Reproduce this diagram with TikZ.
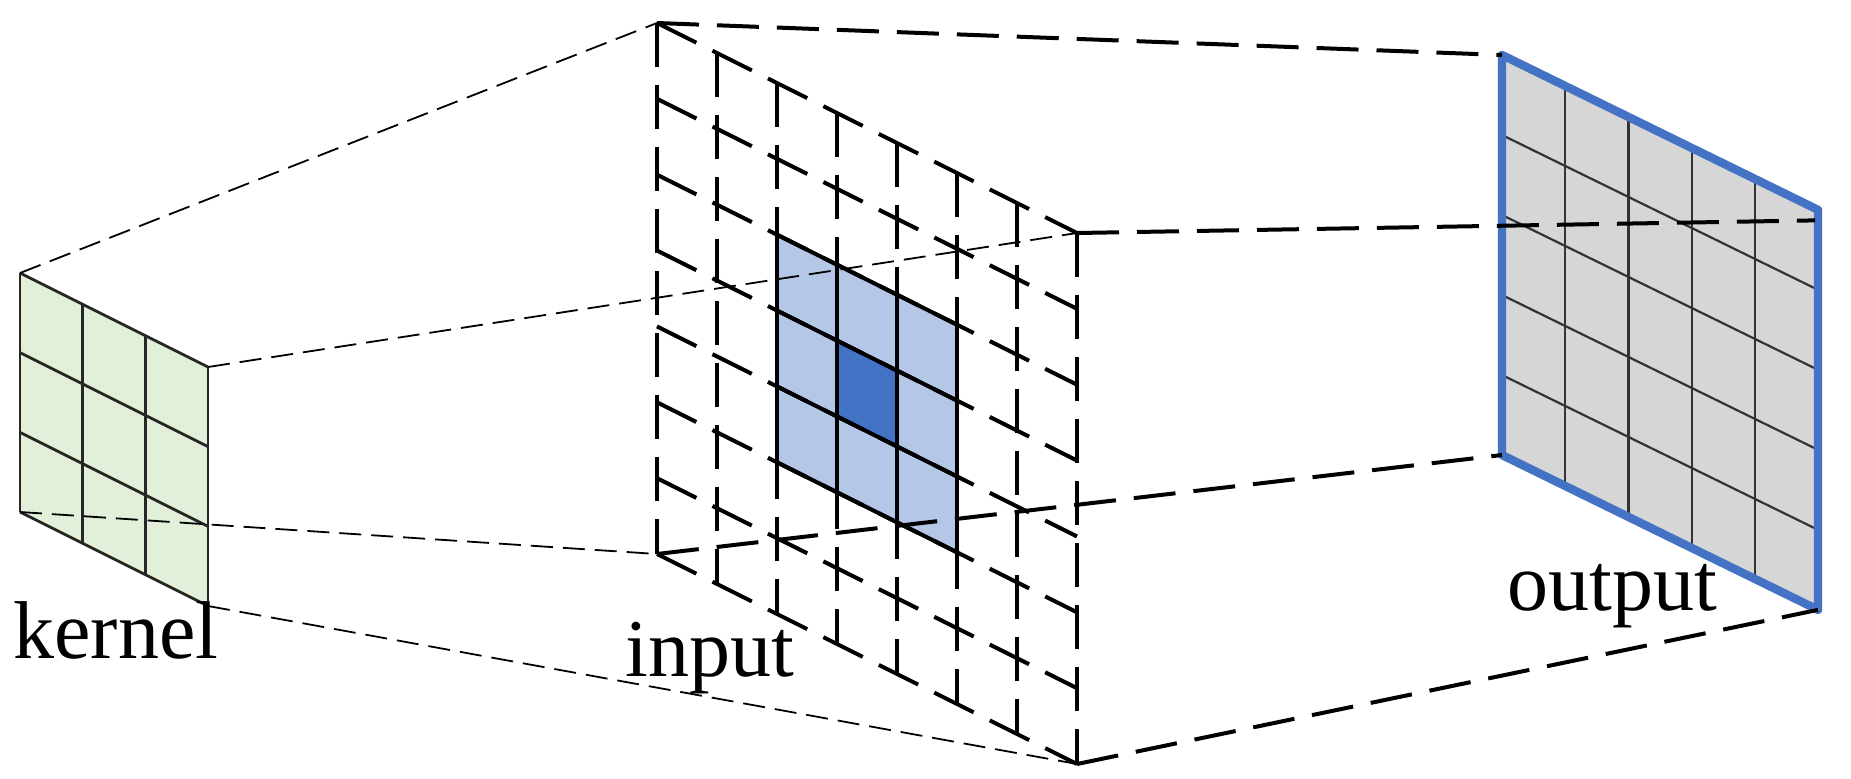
\documentclass[tikz,border=0pt]{standalone}
\usepackage{fontspec}
\setmainfont{Liberation Serif}
\usetikzlibrary{positioning}

\definecolor{kernelgreen}{HTML}{E2F0D9}
\definecolor{fieldblue}{HTML}{B4C7E7}
\definecolor{centreblue}{HTML}{4472C4}
\definecolor{outgray}{HTML}{D6D6D6}

\begin{document}
\begin{tikzpicture}[
            x=0.5pt, y=-0.5pt,
            kernelline/.style={draw=black!85, line width=1.4pt},
            inputline/.style={draw=black, line width=2pt, dash pattern=on 22pt off 9pt},
            fieldline/.style={draw=black, line width=2pt},
            outputline/.style={draw=black!80, line width=1.1pt},
            outputframe/.style={draw=centreblue, line width=4.2pt, line join=round},
            thinlink/.style={draw=black, line width=0.9pt, dash pattern=on 11pt off 5pt},
            boxlink/.style={draw=black, line width=2pt, dash pattern=on 21pt off 9pt},
            caption/.style={font=\fontsize{41}{41}\selectfont, anchor=base west, inner sep=0pt}
        ]
            \useasboundingbox (0,0) rectangle (1851,778);

            % Kernel
            \begin{scope}[shift={(20,273)}, yslant=-0.5]
                \fill[kernelgreen] (0,0) rectangle (188,239);
                \foreach \i in {0,...,3}
                    \draw[kernelline] ({\i*188/3},0) -- ({\i*188/3},239);
                \foreach \j in {0,...,3}
                    \draw[kernelline] (0,{\j*239/3}) -- (188,{\j*239/3});
                \coordinate (kTL) at (0,0);
                \coordinate (kTR) at (188,0);
                \coordinate (kBL) at (0,239);
                \coordinate (kBR) at (188,239);
            \end{scope}

            % Input
            \begin{scope}[shift={(657,23)}, yslant=-0.5]
                \fill[fieldblue] (120,{2*531/7}) rectangle (300,{5*531/7});
                \fill[centreblue] (180,{3*531/7}) rectangle (240,{4*531/7});
                \foreach \i in {0,...,7}
                    \draw[inputline] (\i*60,0) -- (\i*60,531);
                \foreach \j in {0,...,7}
                    \draw[inputline] (0,{\j*531/7}) -- (420,{\j*531/7});
                \foreach \i in {2,...,5}
                    \draw[fieldline] (\i*60,{2*531/7}) -- (\i*60,{5*531/7});
                \foreach \j in {2,...,5}
                    \draw[fieldline] (120,{\j*531/7}) -- (300,{\j*531/7});
                \coordinate (iTL) at (0,0);
                \coordinate (iTR) at (420,0);
                \coordinate (iBL) at (0,531);
                \coordinate (iBR) at (420,531);
            \end{scope}

            % Output
            \begin{scope}[shift={(1502,55)}, yslant=-0.49]
                \fill[outgray] (0,0) rectangle (316,400);
                \foreach \i in {1,...,4}
                    \draw[outputline] ({\i*316/5},0) -- ({\i*316/5},400);
                \foreach \j in {1,...,4}
                    \draw[outputline] (0,\j*80) -- (316,\j*80);
                \draw[outputframe] (0,0) rectangle (316,400);
                \coordinate (oTL) at (0,0);
                \coordinate (oR) at (313,12);
                \coordinate (oBL) at (0,400);
                \coordinate (oBR) at (316,400);
            \end{scope}

            % Kernel to input
            \draw[thinlink] (kTL) -- (iTL);
            \draw[thinlink] (kTR) -- (iTR);
            \draw[thinlink] (kBL) -- (iBL);
            \draw[thinlink] (kBR) -- (iBR);

            % Input to output
            \draw[boxlink] (iTL) -- (oTL);
            \draw[boxlink] (iTR) -- (oR);
            \draw[boxlink] (iBL) -- (oBL);
            \draw[boxlink] (iBR) -- (oBR);

            % Labels
            \node[caption] (kernellabel) at (13,658) {kernel};
            \node[caption] (inputlabel) at (625,676) {input};
            \node[caption] (outputlabel) at (1507,610) {output};

        \end{tikzpicture}
\end{document}
